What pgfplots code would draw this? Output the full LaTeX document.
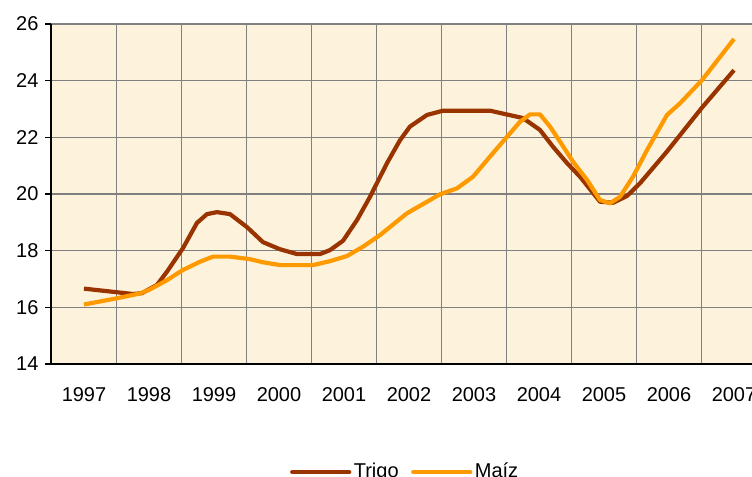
\documentclass[border=0pt]{standalone}
\usepackage{fontspec}
\setmainfont{Liberation Sans}
\usepackage{pgfplots}
\pgfplotsset{compat=1.18}
\definecolor{trigo}{HTML}{993300}
\definecolor{maiz}{HTML}{FF9900}
\definecolor{bg}{RGB}{253,243,220}
\definecolor{gridc}{RGB}{128,128,128}
\begin{document}
\begin{tikzpicture}
\begin{axis}[
  at={(0,0)}, anchor=south west,
  scale only axis, width=357.5pt, height=170pt,
  xmin=-0.5, xmax=10.5, ymin=14, ymax=26,
  axis background/.style={fill=bg},
  axis x line=bottom, axis y line=left,
  axis line style={-, line width=1pt, black},
  xtick={0,1,2,3,4,5,6,7,8,9,10},
  xticklabels={1997,1998,1999,2000,2001,2002,2003,2004,2005,2006,2007},
  xtick style={draw=none},
  minor xtick={-0.5,0.5,1.5,2.5,3.5,4.5,5.5,6.5,7.5,8.5,9.5,10.5},
  minor tick length=0pt,
  xminorgrids, ymajorgrids,
  grid style={gridc, line width=0.6pt},
  minor grid style={gridc, line width=0.6pt},
  ytick={14,16,18,20,22,24,26},
  ytick pos=left, tick align=outside, major tick length=3pt,
  ytick style={black, line width=0.75pt},
  /pgf/number format/assume math mode=true,
  xticklabel style={yshift=-5pt},
  legend style={at={(0.495,-0.318)}, anchor=center, draw=none, fill=none,
    /tikz/every even column/.append style={column sep=5pt},
    nodes={inner sep=1.25pt}},
  legend columns=2,
  legend image code/.code={\draw[#1, line cap=round] (0pt,0pt) -- (28.5pt,0pt);},
]
\addplot[trigo, line width=2.1pt, line join=round, no marks] coordinates {
(0,16.66) (0.754,16.47) (0.892,16.50) (1.123,16.79) (1.277,17.26) (1.523,18.09)
(1.738,18.98) (1.892,19.29) (2.046,19.36) (2.246,19.29) (2.508,18.83) (2.754,18.30)
(3.015,18.05) (3.277,17.88) (3.631,17.88) (3.785,18.02) (3.985,18.35) (4.2,19.08)
(4.4,19.90) (4.554,20.6) (4.662,21.09) (4.862,21.9) (5.015,22.38) (5.277,22.79)
(5.523,22.94) (6.246,22.94) (6.754,22.68) (7.015,22.26) (7.215,21.67) (7.431,21.09)
(7.631,20.61) (7.938,19.73) (8.138,19.69) (8.354,19.93) (8.554,20.38) (8.969,21.50)
(9.508,23.05) (10.0,24.37)
};
\addlegendentry{Trigo}
\addplot[maiz, line width=2.1pt, line join=round, no marks] coordinates {
(0,16.10) (0.508,16.32) (0.862,16.49) (1.015,16.63) (1.277,16.96) (1.523,17.32)
(1.785,17.61) (1.985,17.79) (2.246,17.79) (2.554,17.70) (2.754,17.59) (3.015,17.49)
(3.523,17.49) (3.785,17.63) (4.046,17.81) (4.292,18.14) (4.554,18.55) (4.969,19.32)
(5.477,19.99) (5.738,20.20) (5.985,20.61) (6.246,21.32) (6.508,22.02) (6.708,22.55)
(6.862,22.81) (7.015,22.81) (7.169,22.38) (7.323,21.85) (7.523,21.14) (7.738,20.50)
(7.938,19.79) (8.092,19.67) (8.246,19.90) (8.446,20.61) (8.662,21.55) (8.969,22.79)
(9.169,23.20) (9.508,24.02) (10.0,25.47)
};
\addlegendentry{Maíz}
\end{axis}
\pgfresetboundingbox
\useasboundingbox (-25.75pt,-56.5pt) rectangle (350.25pt,182pt);
\end{tikzpicture}
\end{document}
